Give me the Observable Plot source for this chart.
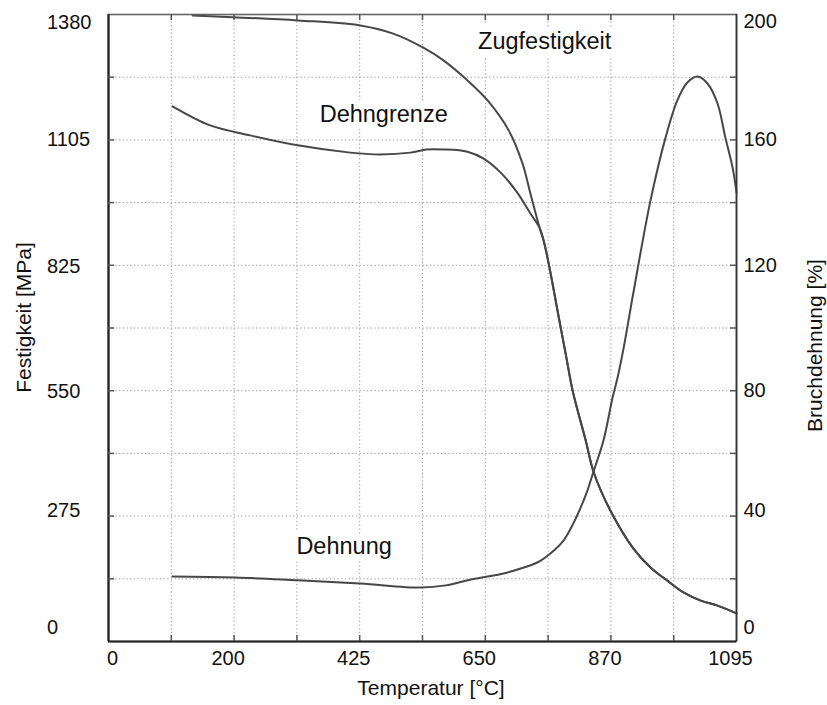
<!DOCTYPE html>
<html>
<head>
<meta charset="utf-8">
<script src="https://cdn.jsdelivr.net/npm/d3@7"></script>
<script src="https://cdn.jsdelivr.net/npm/@observablehq/plot@0.6"></script>
<style>
  body { margin: 0; background: #fff; }
</style>
</head>
<body>
<div id="chart"></div>
<script>
// ---- tick labels ----
const xTickLabels = [0, 200, 425, 650, 870, 1095];      // Temperatur [°C]
const yLeftTicks  = [0, 275, 550, 825, 1105, 1380];     // Festigkeit [MPa]
const yRightTicks = [0, 40, 80, 120, 160, 200];         // Bruchdehnung [%]
const yMax = 1380, pMax = 200;

// ---- shared high-temperature branch (both strength curves coincide) ----
const hotT   = [752, 761, 778, 792, 803, 826, 840, 870, 910, 941, 971, 1000, 1031, 1061, 1095];
const hotMPa = [883, 832, 718, 625, 552, 442, 372, 286, 205, 163, 134, 108, 90, 79, 62];

// ---- Zugfestigkeit (MPa) ----
const zugT   = [134, 314, 426, 485, 539, 575, 618, 654, 691, 715, 729, 745];
const zugMPa = [1378, 1367, 1356, 1338, 1307, 1279, 1235, 1191, 1125, 1053, 986, 911];

// ---- Dehngrenze (MPa) ----
const dgT   = [102, 162, 229, 314, 408, 462, 516, 545, 575, 618, 647, 677, 706, 729, 745];
const dgMPa = [1178, 1136, 1114, 1092, 1076, 1072, 1076, 1083, 1083, 1078, 1063, 1032, 988, 942, 911];

// ---- Dehnung (%) ----
const dnT   = [102, 201, 314, 426, 534, 579, 624, 654, 682, 712, 741, 764, 787, 804, 817, 829, 839, 857, 873, 882, 893, 910, 941, 968, 989, 1007, 1025, 1043, 1061, 1075, 1088, 1095];
const dnPct = [20.7, 20.4, 19.5, 18.5, 17.2, 17.9, 19.8, 20.7, 21.7, 23.3, 25.2, 28.1, 32.2, 37.6, 42.7, 48.2, 53.9, 64.1, 77.8, 84.2, 93.8, 111.0, 140.7, 160.8, 172.6, 178.3, 180.2, 178.0, 171.6, 160.8, 151.2, 143.2];

// ---- curve labels ----
const labelText = ["Zugfestigkeit", "Dehngrenze", "Dehnung"];
const labelT    = [754, 468, 397];
const labelMPa  = [1321, 1160, 210];

// ---- build tables ----
const k = yMax / pMax; // % -> MPa position on shared axis
const hot = hotT.map((t, i) => ({t, v: hotMPa[i]}));
const zug = zugT.map((t, i) => ({t, v: zugMPa[i]})).concat(hot);
const dg  = dgT.map((t, i) => ({t, v: dgMPa[i]})).concat(hot);
const dn  = dnT.map((t, i) => ({t, v: dnPct[i] * k}));
const labels = labelText.map((text, i) => ({text, t: labelT[i], v: labelMPa[i]}));

const gridX = xTickLabels.slice(1, -1).concat(d3.pairs(xTickLabels, (a, b) => (a + b) / 2));
const gridY = d3.range(1, 10).map(i => i * yMax / 10);

const W = 827, H = 705, mL = 108, mR = 91, mT = 14, mB = 64;
const plotW = W - mL - mR, plotH = H - mT - mB;
const tickLen = 6;
const fs = 20;
const gridStyle = {stroke: "#9a9a9a", strokeWidth: 1, strokeDasharray: "1.3,2.4"};
const tickStyle = {stroke: "#555", strokeWidth: 1.5};
const lineStyle = {x: "t", y: "v", stroke: "#474747", strokeWidth: 2, curve: "catmull-rom"};
const fmt = d => String(d);
const rfmt = d => String(Math.round(d / k));

const chart = Plot.plot({
  width: W, height: H,
  marginLeft: mL, marginRight: mR, marginTop: mT, marginBottom: mB,
  style: {fontFamily: "'Liberation Sans', Arial, sans-serif", color: "#111", background: "white", overflow: "visible"},
  x: {type: "linear", domain: xTickLabels, label: null},
  y: {type: "linear", domain: [0, yMax], label: null},
  marks: [
    // grid
    Plot.ruleX(gridX, {x: d => d, ...gridStyle}),
    Plot.ruleY(gridY, {y: d => d, ...gridStyle}),
    // curve labels with white halo
    Plot.text(labels, {x: "t", y: "v", text: "text", fontSize: 23.5, fill: "#111",
      stroke: "white", strokeWidth: 14, strokeLinejoin: "round", paintOrder: "stroke"}),
    // curves
    Plot.line(zug, lineStyle),
    Plot.line(dg, lineStyle),
    Plot.line(dn, lineStyle),
    // frame
    Plot.frame({stroke: "#666", strokeWidth: 1.6}),
    Plot.ruleX([xTickLabels[xTickLabels.length - 1]], {stroke: "#333", strokeWidth: 1.6}),
    Plot.ruleX([0], {stroke: "#222", strokeWidth: 2.2}),
    Plot.ruleY([0], {stroke: "#222", strokeWidth: 2.2}),
    // inward tick marks
    Plot.ruleX(gridX, {x: d => d, insetTop: plotH - tickLen, ...tickStyle}),
    Plot.ruleX(gridX, {x: d => d, insetBottom: plotH - tickLen, ...tickStyle}),
    Plot.ruleY(gridY, {y: d => d, insetRight: plotW - tickLen, ...tickStyle}),
    Plot.ruleY(gridY, {y: d => d, insetLeft: plotW - tickLen, ...tickStyle}),
    // bottom axis labels
    Plot.axisX(xTickLabels.slice(0, 1), {anchor: "bottom", tickSize: 0, tickPadding: 9, dx: 4, fontSize: fs, tickFormat: fmt, label: null}),
    Plot.axisX(xTickLabels.slice(1), {anchor: "bottom", tickSize: 0, tickPadding: 9, dx: -6, fontSize: fs, tickFormat: fmt, label: null}),
    // left axis labels
    Plot.axisY(yLeftTicks.slice(0, 1), {anchor: "left", tickSize: 0, tickPadding: 0, dx: -61.5, dy: -13.5, textAnchor: "start", fontSize: fs, tickFormat: fmt, label: null}),
    Plot.axisY(yLeftTicks.slice(1, 2), {anchor: "left", tickSize: 0, tickPadding: 0, dx: -61.5, dy: -6, textAnchor: "start", fontSize: fs, tickFormat: fmt, label: null}),
    Plot.axisY(yLeftTicks.slice(2, 5), {anchor: "left", tickSize: 0, tickPadding: 0, dx: -61.5, dy: 0, textAnchor: "start", fontSize: fs, tickFormat: fmt, label: null}),
    Plot.axisY(yLeftTicks.slice(5), {anchor: "left", tickSize: 0, tickPadding: 0, dx: -61.5, dy: 8, textAnchor: "start", fontSize: fs, tickFormat: fmt, label: null}),
    // right axis labels
    Plot.axisY(yRightTicks.slice(0, 1).map(p => p * k), {anchor: "right", tickSize: 0, tickPadding: 7, dy: -13.5, fontSize: fs, tickFormat: rfmt, label: null}),
    Plot.axisY(yRightTicks.slice(1, 2).map(p => p * k), {anchor: "right", tickSize: 0, tickPadding: 7, dy: -5.5, fontSize: fs, tickFormat: rfmt, label: null}),
    Plot.axisY(yRightTicks.slice(2, 5).map(p => p * k), {anchor: "right", tickSize: 0, tickPadding: 7, dy: 0, fontSize: fs, tickFormat: rfmt, label: null}),
    Plot.axisY(yRightTicks.slice(5).map(p => p * k), {anchor: "right", tickSize: 0, tickPadding: 7, dy: 7.5, fontSize: fs, tickFormat: rfmt, label: null}),
    // axis titles
    Plot.text(["Festigkeit [MPa]"], {text: d => d, frameAnchor: "left", textAnchor: "middle", dx: -84, dy: -10.5, rotate: -90, fontSize: 21, fill: "#111"}),
    Plot.text(["Bruchdehnung [%]"], {text: d => d, frameAnchor: "right", textAnchor: "middle", dx: 79, dy: 17.5, rotate: -90, fontSize: 21, fill: "#111"}),
    Plot.text(["Temperatur [°C]"], {text: d => d, frameAnchor: "bottom", textAnchor: "middle", dx: 8.5, dy: 53.5, fontSize: 21, fill: "#111"})
  ]
});
document.getElementById("chart").appendChild(chart);
</script>
</body>
</html>
